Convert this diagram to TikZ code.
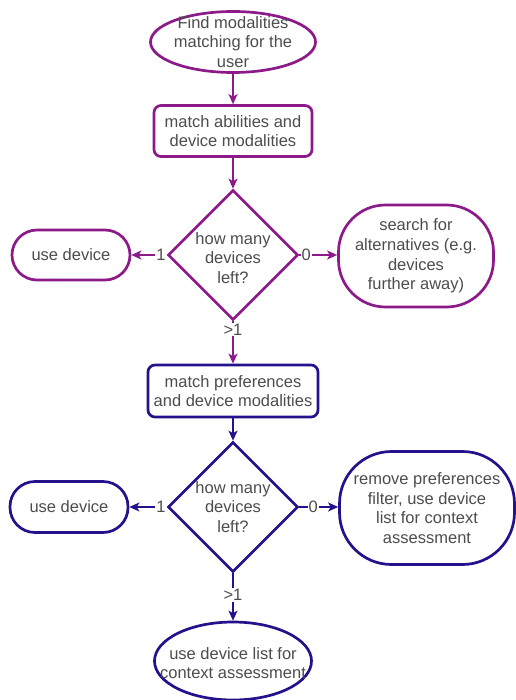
\documentclass[tikz,border=0pt]{standalone}
\usepackage{fontspec}
\setmainfont{Liberation Sans}
\usetikzlibrary{shapes.geometric,arrows.meta}
\definecolor{flowpurple}{RGB}{140,26,137}
\definecolor{flowblue}{RGB}{35,18,140}
\definecolor{flowtext}{RGB}{77,77,77}
\begin{document}
\begin{tikzpicture}[x=1pt,y=-1pt,
  every node/.style={text=flowtext,font=\fontsize{16.5pt}{19.7pt}\selectfont,align=center},
  shp/.style={draw=#1,line width=2.7pt,inner sep=0pt,fill=white},
  box/.style={shp=#1,rectangle,rounded corners=7pt},
  term/.style={shp=#1,rectangle},
  oval/.style={shp=#1,ellipse},
  decide/.style={shp=#1,diamond,aspect=1,minimum width=130pt,minimum height=130pt},
  flow/.style={draw=#1,line width=1.5pt,-{Stealth[length=10pt,width=9pt,inset=2.5pt]}},
  lbl/.style={fill=white,inner sep=1pt}]
  \useasboundingbox (0,0) rectangle (515,700);
  % first stage, abilities:
  \node (start) [oval=flowpurple,minimum width=165pt,minimum height=61pt,
    label={center:{Find modalities\\matching for the\\user}}] at (233,42) {};
  \node (match1) [box=flowpurple,minimum width=158pt,minimum height=51pt] at (233,131)
    {match abilities and\\device modalities};
  \node (q1) [decide=flowpurple,label={[yshift=-3pt]center:{how many\\devices\\left?}}] at (233,255) {};
  \node (use1) [term=flowpurple,minimum width=118pt,minimum height=50pt,rounded corners=25pt] at (71,255)
    {use device};
  \node (search) [term=flowpurple,minimum width=155pt,minimum height=102pt,rounded corners=47pt] at (416,256)
    {search for\\alternatives (e.g.\\devices\\further away)};
  \draw[flow=flowpurple] (start) -- (match1);
  \draw[flow=flowpurple] (match1) -- (q1);
  \draw[flow=flowpurple] (q1.west) -- node[lbl,pos=0.16] {1} (use1.east);
  \draw[flow=flowpurple] (q1.east) -- node[lbl,pos=0.18] {0} (search.west |- q1.east);
  % second stage, preferences:
  \node (match2) [box=flowblue,minimum width=170pt,minimum height=52pt] at (233,391)
    {match preferences\\and device modalities};
  \draw[flow=flowpurple] (q1.south) -- node[lbl,pos=0.2] {>1} (match2.north);
  \node (q2) [decide=flowblue,label={center:{how many\\devices\\left?}}] at (233,507) {};
  \node (use2) [term=flowblue,minimum width=118pt,minimum height=51pt,rounded corners=25pt] at (69,507)
    {use device};
  \node (remove) [term=flowblue,minimum width=175pt,minimum height=113pt,rounded corners=52pt] at (427,508)
    {remove preferences\\filter, use device\\list for context\\assessment};
  \node (last) [oval=flowblue,minimum width=157pt,minimum height=78pt,
    label={[yshift=-2pt]center:{use device list for\\context assessment}}] at (233,661) {};
  \draw[flow=flowblue] (match2) -- (q2);
  \draw[flow=flowblue] (q2.west) -- node[lbl,pos=0.15] {1} (use2.east);
  \draw[flow=flowblue] (q2.east) -- node[lbl,pos=0.36] {0} (remove.west |- q2.east);
  \draw[flow=flowblue] (q2.south) -- node[lbl,pos=0.46] {>1} (last.north);
\end{tikzpicture}
\end{document}
